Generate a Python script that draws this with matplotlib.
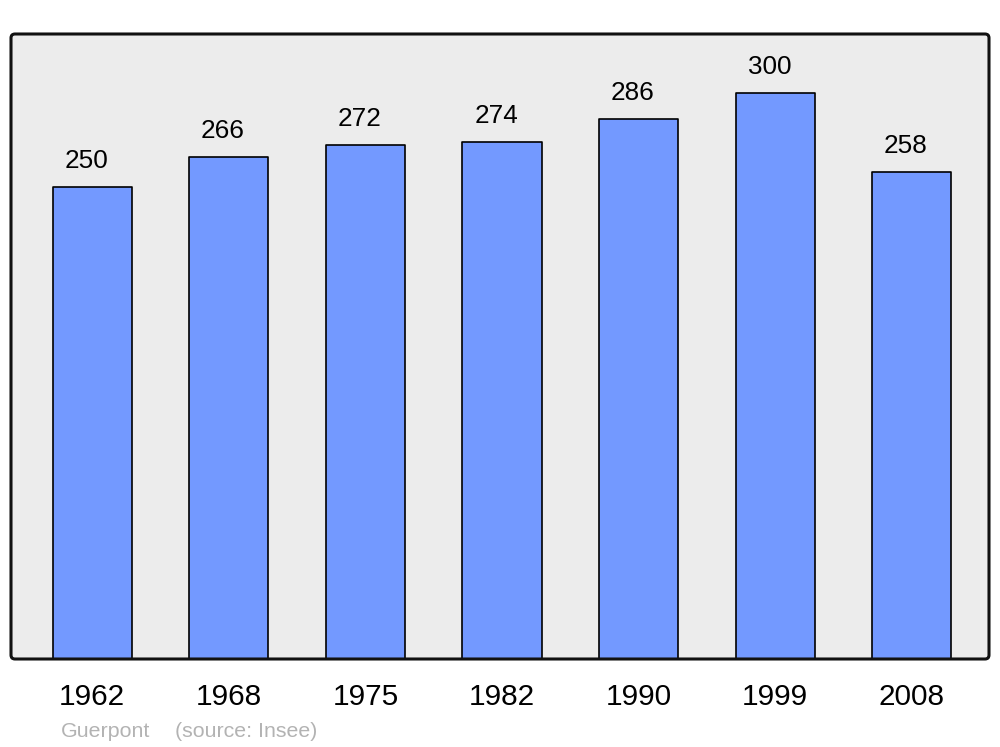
import matplotlib
matplotlib.use("Agg")
import matplotlib.pyplot as plt
from matplotlib.patches import FancyBboxPatch

years = ["1962", "1968", "1975", "1982", "1990", "1999", "2008"]
population = [250, 266, 272, 274, 286, 300, 258]
commune = "Guerpont"
source = "(source: Insee)"

plt.rcParams['font.family'] = ['Liberation Sans', 'DejaVu Sans']

fig = plt.figure(figsize=(10, 7.47), dpi=100)
ax = fig.add_axes([0.011, 1 - 659 / 747, 0.978, (659 - 34) / 747])
ax.set_facecolor('#ececec')

x = list(range(len(years)))
bars = ax.bar(x, population, width=0.58, color='#7399ff', edgecolor='black',
              linewidth=1.2, joinstyle='round', zorder=2)

for xi, v in zip(x, population):
    ax.annotate(str(v), xy=(xi, v), xytext=(-4.3, 13.7), textcoords='offset points',
                ha='center', va='baseline', fontsize=18.8, color='black')

ax.set_xlim(-0.595, 6.565)
ax.set_ylim(0, 331)
ax.set_xticks(x)
ax.set_xticklabels(years, fontsize=21.4)
ax.tick_params(axis='x', length=0, pad=17)
ax.set_yticks([])
for s in ax.spines.values():
    s.set_visible(False)

frame = FancyBboxPatch((0.011, 1 - 659 / 747), 0.978, (659 - 34) / 747,
                       boxstyle="round,pad=0,rounding_size=0.004",
                       mutation_aspect=1000 / 747,
                       transform=fig.transFigure, facecolor='none',
                       edgecolor='#111111', linewidth=2.2, zorder=5)
fig.patches.append(frame)

fig.text(0.061, 1 - 737 / 747, commune, fontsize=15.4, color='#b3b3b3', va='baseline')
fig.text(0.175, 1 - 737 / 747, source, fontsize=15.4, color='#b3b3b3', va='baseline')

fig.savefig("out.png", dpi=100)
